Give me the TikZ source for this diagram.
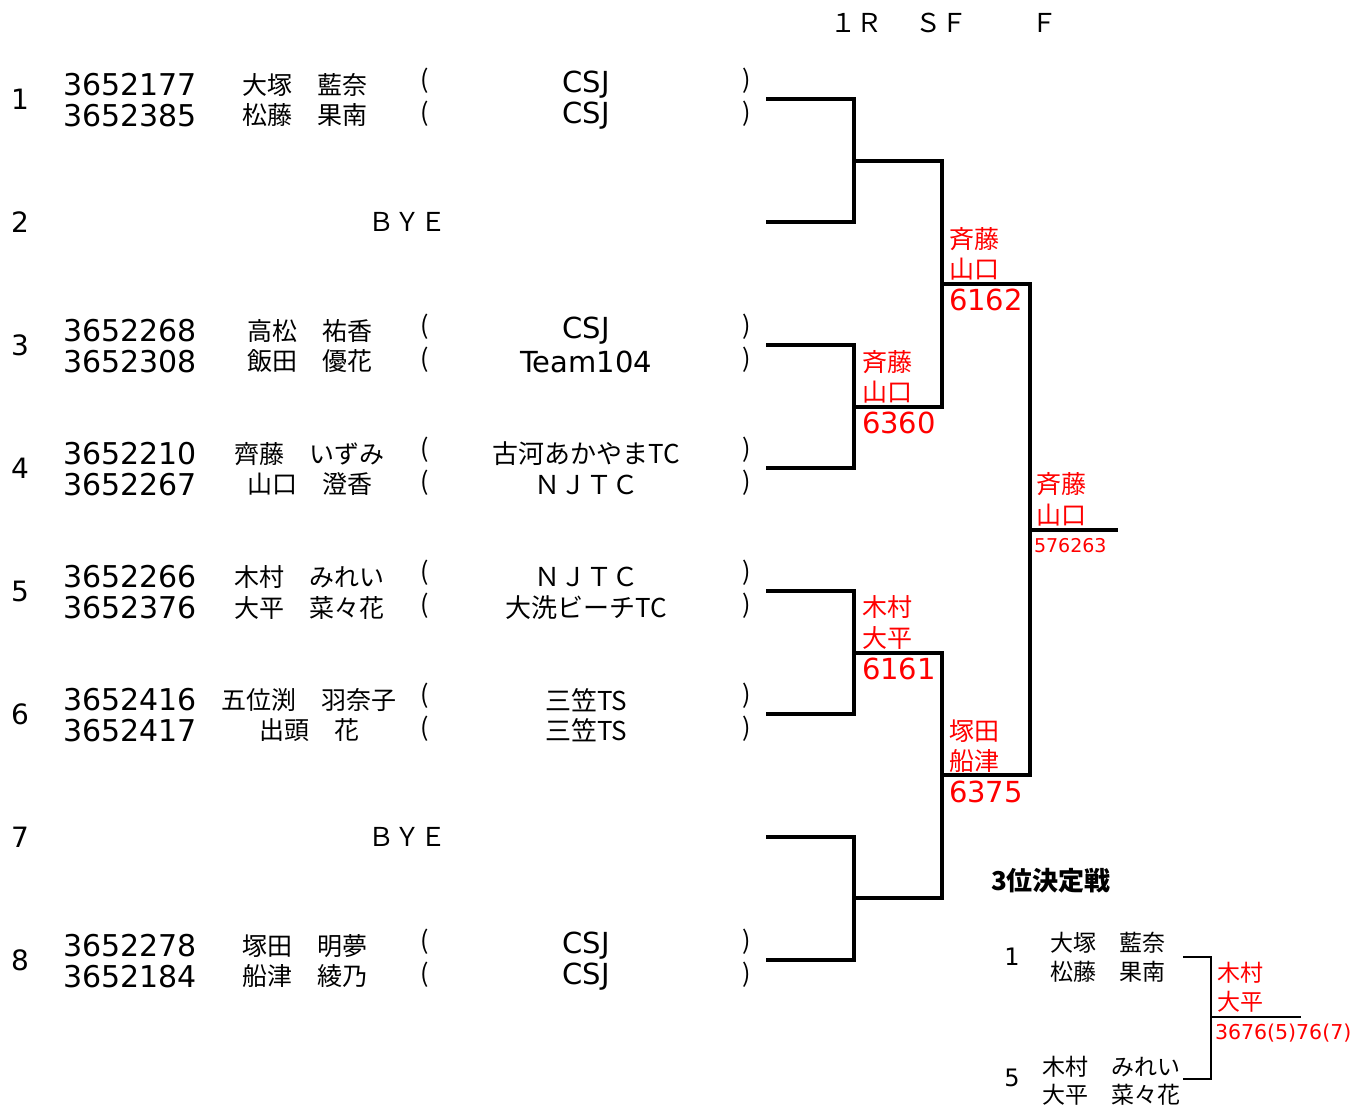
\documentclass[tikz,border=0pt]{standalone}
\usepackage{fontspec}
\setmainfont{DejaVu Sans}
\newfontfamily\jp{Noto Sans CJK JP}
\newfontfamily\lat{DejaVu Sans}
\newcommand\fsz[1]{\fontsize{#1}{#1}\selectfont}
\definecolor{wred}{RGB}{255,0,0}
\begin{document}
\begin{tikzpicture}[x=1pt,y=-1pt,
  every node/.style={inner sep=0pt, outer sep=0pt},
  idn/.style={font=\lat\fsz{30}, anchor=west},
  nmn/.style={font=\jp\fsz{25}},
  clubl/.style={font=\lat\fsz{29}},
  clubj/.style={font=\jp\fsz{26}},
  parn/.style={font=\jp\fsz{25}},
  entryno/.style={font=\lat\fsz{28}},
  rname/.style={font=\jp\fsz{25}, text=wred, anchor=west},
  rscore/.style={font=\lat\fsz{29}, text=wred, anchor=west},
  hdr/.style={font=\jp\fsz{26}},
  bline/.style={line width=3.2pt, line join=miter},
  tline/.style={line width=2.2pt, line join=miter},
  tname/.style={font=\jp\fsz{23}},
]
\useasboundingbox (0,0) rectangle (1360,1106);

% header
\node[hdr] (h1) at (856,23) {１Ｒ};
\node[hdr] (h2) at (941,23) {ＳＦ};
\node[hdr] (h3) at (1044,23) {Ｆ};

% entry numbers
\foreach \i/\y in {1/99,2/222,3/345,4/468,5/591,6/714,7/837,8/960}
  \node[entryno] (no\i) at (20,\y) {\i};

% entry 1
\node[idn] (id1a) at (63,85) {3652177};
\node[idn] (id1b) at (63,115.5) {3652385};
\node[nmn] (nm1a) at (305,85) {大塚　藍奈};
\node[nmn] (nm1b) at (305,115.5) {松藤　果南};
\node[clubl] (cl1a) at (586,85) {CSJ};
\node[clubl] (cl1b) at (586,115.5) {CSJ};
% entry 2
\node[hdr] (bye2) at (407,222) {ＢＹＥ};
% entry 3
\node[idn] (id3a) at (63,331) {3652268};
\node[idn] (id3b) at (63,361.5) {3652308};
\node[nmn] (nm3a) at (310,331) {高松　祐香};
\node[nmn] (nm3b) at (310,361.5) {飯田　優花};
\node[clubl] (cl3a) at (586,331) {CSJ};
\node[clubl] (cl3b) at (586,361.5) {Team104};
% entry 4
\node[idn] (id4a) at (63,454) {3652210};
\node[idn] (id4b) at (63,484.5) {3652267};
\node[nmn] (nm4a) at (309,454) {齊藤　いずみ};
\node[nmn] (nm4b) at (310,484.5) {山口　澄香};
\node[clubj] (cl4a) at (586,454) {古河あかやまTC};
\node[clubj] (cl4b) at (586,484.5) {ＮＪＴＣ};
% entry 5
\node[idn] (id5a) at (63,577) {3652266};
\node[idn] (id5b) at (63,607.5) {3652376};
\node[nmn] (nm5a) at (309,577) {木村　みれい};
\node[nmn] (nm5b) at (309,607.5) {大平　菜々花};
\node[clubj] (cl5a) at (586,577) {ＮＪＴＣ};
\node[clubj] (cl5b) at (586,607.5) {大洗ビーチTC};
% entry 6
\node[idn] (id6a) at (63,700) {3652416};
\node[idn] (id6b) at (63,730.5) {3652417};
\node[nmn] (nm6a) at (309,700) {五位渕　羽奈子};
\node[nmn] (nm6b) at (309,730.5) {出頭　花};
\node[clubj] (cl6a) at (586,700) {三笠TS};
\node[clubj] (cl6b) at (586,730.5) {三笠TS};
% entry 7
\node[hdr] (bye7) at (407,837) {ＢＹＥ};
% entry 8
\node[idn] (id8a) at (63,946) {3652278};
\node[idn] (id8b) at (63,976.5) {3652184};
\node[nmn] (nm8a) at (305,946) {塚田　明夢};
\node[nmn] (nm8b) at (305,976.5) {船津　綾乃};
\node[clubl] (cl8a) at (586,946) {CSJ};
\node[clubl] (cl8b) at (586,976.5) {CSJ};

% parentheses
\foreach \e/\y in {1/85,3/331,4/454,5/577,6/700,8/946}{
  \node[parn] (po\e a) at (425,\y-4) {(};
  \node[parn] (pc\e a) at (747,\y-4) {)};
  \node[parn] (po\e b) at (425,\y+29) {(};
  \node[parn] (pc\e b) at (747,\y+29) {)};
}

% bracket coordinates
\foreach \i/\y in {1/99,2/222,3/345,4/468,5/591,6/714,7/837,8/960}
  \coordinate (e\i) at (766,\y);
\coordinate (m1) at (854,161);
\coordinate (m2) at (854,407);
\coordinate (m3) at (854,653);
\coordinate (m4) at (854,898);
\coordinate (s1) at (942,284);
\coordinate (s2) at (942,775);
\coordinate (fi) at (1030,530);
\coordinate (ch) at (1118,530);

\draw[bline] (e1) -| (m1);
\draw[bline] (e2) -| (m1);
\draw[bline] (e3) -| (m2);
\draw[bline] (e4) -| (m2);
\draw[bline] (e5) -| (m3);
\draw[bline] (e6) -| (m3);
\draw[bline] (e7) -| (m4);
\draw[bline] (e8) -| (m4);
\draw[bline] (m1) -| (s1);
\draw[bline] (m2) -| (s1);
\draw[bline] (m3) -| (s2);
\draw[bline] (m4) -| (s2);
\draw[bline] (s1) -| (fi);
\draw[bline] (s2) -| (fi);
\draw[bline] (fi) -- (ch);

% red results
\node[rname] (r1a) at (949,239) {斉藤};
\node[rname] (r1b) at (949,269) {山口};
\node[rscore] (r1c) at (949,300) {6162};
\node[rname] (r2a) at (862,362) {斉藤};
\node[rname] (r2b) at (862,392) {山口};
\node[rscore] (r2c) at (862,423) {6360};
\node[rname] (r3a) at (862,607) {木村};
\node[rname] (r3b) at (862,638) {大平};
\node[rscore] (r3c) at (862,669) {6161};
\node[rname] (r4a) at (949,731) {塚田};
\node[rname] (r4b) at (949,761) {船津};
\node[rscore] (r4c) at (949,792) {6375};
\node[rname] (r5a) at (1036,484) {斉藤};
\node[rname] (r5b) at (1036,515) {山口};
\node[font=\lat\fsz{19}, text=wred, anchor=west] (r5c) at (1034,546) {576263};

% third place
\node[font=\jp\bfseries\fsz{26}, anchor=west] (tt) at (991,881) {3位決定戦};
\node[font=\lat\fsz{24}] (tn1) at (1012,957) {1};
\node[font=\lat\fsz{24}] (tn5) at (1012,1078) {5};
\node[tname] (t1a) at (1108,943) {大塚　藍奈};
\node[tname] (t1b) at (1108,972) {松藤　果南};
\node[tname] (t5a) at (1111,1067) {木村　みれい};
\node[tname] (t5b) at (1111,1095) {大平　菜々花};
\coordinate (q1) at (1183,957);
\coordinate (q5) at (1183,1079);
\coordinate (qw) at (1211,1017);
\coordinate (qe) at (1301,1017);
\draw[tline] (q1) -| (qw);
\draw[tline] (q5) -| (qw);
\draw[tline] (qw) -- (qe);
\node[font=\jp\fsz{23}, text=wred, anchor=west] (tr1) at (1217,973) {木村};
\node[font=\jp\fsz{23}, text=wred, anchor=west] (tr2) at (1217,1002) {大平};
\node[font=\lat\fsz{20.5}, text=wred, anchor=west] (tr3) at (1215,1033) {3676(5)76(7)};
\end{tikzpicture}
\end{document}
